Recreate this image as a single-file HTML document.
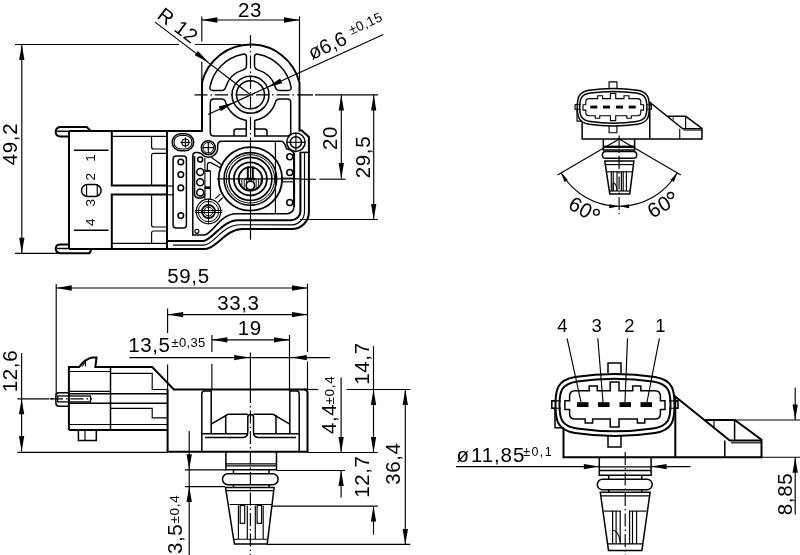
<!DOCTYPE html>
<html><head><meta charset="utf-8"><style>
html,body{margin:0;padding:0;background:#fff;width:800px;height:555px;overflow:hidden}
svg{display:block;will-change:transform}
text{font-family:"Liberation Sans",sans-serif;fill:#000;stroke:none}
</style></head><body>
<svg width="800" height="555" viewBox="0 0 800 555">
<g fill="none" stroke="#000" stroke-linecap="butt">
<line x1="201.8" y1="16.5" x2="201.8" y2="41.6" stroke-width="1.15" />
<line x1="201.8" y1="61.8" x2="201.8" y2="82" stroke-width="1.15" />
<line x1="299.5" y1="16.5" x2="299.5" y2="80" stroke-width="1.15" />
<line x1="201.8" y1="20" x2="299.5" y2="20" stroke-width="1.15" />
<path d="M201.80 20.00 L217.30 17.35 L217.30 22.65 Z" fill="#000" stroke="none"/>
<path d="M299.50 20.00 L284.00 22.65 L284.00 17.35 Z" fill="#000" stroke="none"/>
<text x="250" y="17" font-size="20.5" letter-spacing="0.6" text-anchor="middle" >23</text>
<line x1="21.8" y1="44.5" x2="21.8" y2="253.3" stroke-width="1.15" />
<path d="M21.80 44.50 L24.45 60.00 L19.15 60.00 Z" fill="#000" stroke="none"/>
<path d="M21.80 253.30 L19.15 237.80 L24.45 237.80 Z" fill="#000" stroke="none"/>
<line x1="15" y1="44.5" x2="179" y2="44.5" stroke-width="1.15" />
<line x1="195" y1="44.5" x2="241" y2="44.5" stroke-width="1.15" />
<line x1="15" y1="253.3" x2="60" y2="253.3" stroke-width="1.15" />
<text x="17" y="144" font-size="20.5" letter-spacing="0.6" text-anchor="middle" transform="rotate(-90 17 144)" >49,2</text>
<line x1="155.1" y1="22.1" x2="250.5" y2="94.8" stroke-width="1.15" />
<path d="M208.70 62.40 L194.72 55.20 L197.90 50.97 Z" fill="#000" stroke="none"/>
<text x="0" y="0" font-size="20" letter-spacing="0.6" text-anchor="middle" transform="translate(173.8,31) rotate(37)">R 12</text>
<line x1="208" y1="114.4" x2="383.3" y2="34.4" stroke-width="1.15" />
<path d="M267.16 87.22 L280.17 78.39 L282.36 83.22 Z" fill="#000" stroke="none"/>
<path d="M233.84 102.38 L220.83 111.21 L218.64 106.38 Z" fill="#000" stroke="none"/>
<text font-size="20" transform="translate(312,60) rotate(-24.46)">ø6,6<tspan font-size="13.5" dy="-6.5" dx="6" letter-spacing="0.4">±0,15</tspan></text>
<line x1="341.3" y1="95" x2="341.3" y2="178.6" stroke-width="1.15" />
<path d="M341.30 95.00 L343.95 110.50 L338.65 110.50 Z" fill="#000" stroke="none"/>
<path d="M341.30 178.60 L338.65 163.10 L343.95 163.10 Z" fill="#000" stroke="none"/>
<line x1="373.7" y1="95" x2="373.7" y2="219.4" stroke-width="1.15" />
<path d="M373.70 95.00 L376.35 110.50 L371.05 110.50 Z" fill="#000" stroke="none"/>
<path d="M373.70 219.40 L371.05 203.90 L376.35 203.90 Z" fill="#000" stroke="none"/>
<line x1="299.5" y1="179.2" x2="315.9" y2="179.2" stroke-width="1.15" />
<line x1="319.4" y1="179.2" x2="345.6" y2="179.2" stroke-width="1.15" />
<line x1="300" y1="219.5" x2="378" y2="219.5" stroke-width="1.15" />
<text x="337" y="138" font-size="20.5" letter-spacing="0.6" text-anchor="middle" transform="rotate(-90 337 138)" >20</text>
<text x="370" y="157" font-size="20.5" letter-spacing="0.6" text-anchor="middle" transform="rotate(-90 370 157)" >29,5</text>
<line x1="194.5" y1="94.8" x2="299.5" y2="94.8" stroke-width="1.15" stroke-dasharray="13 3 1.5 3"/>
<line x1="299.5" y1="94.9" x2="313" y2="94.9" stroke-width="1.4" />
<line x1="315" y1="94.9" x2="378" y2="94.9" stroke-width="1.4" />
<line x1="250.5" y1="35" x2="250.5" y2="147" stroke-width="1.15" stroke-dasharray="13 3 1.5 3"/>
<line x1="250.5" y1="147" x2="250.5" y2="239.7" stroke-width="1.15" />
<line x1="217" y1="178.9" x2="299.5" y2="178.9" stroke-width="1.15" />
<path d="M69 131 H202 V82.2 A50.3 50.3 0 0 1 299.5 82.6 V130.4 H301.7 L308.9 136.9 V212 A17 17 0 0 1 292 229 H242 C226 229 216 249 205 249 H69" stroke-width="2.0" />
<path d="M173 245.1 H204 C214 245.1 222 224.8 240 224.8 H291.4 A13 13 0 0 0 304.5 211.8 V152.4" stroke-width="1.15" />
<path d="M167 241 H203 C212 241 222 220.2 238 220.2 H291.4 A9 9 0 0 0 300.4 211.2 V152.4" stroke-width="2.0" />
<path d="M299.5 152.4 H308.9" stroke-width="1.5" />
<path d="M192.8 235.1 H204 C212 235.1 220 213.7 236 213.7 H287 A7 7 0 0 0 294 206.7 V153 A11 11 0 0 0 286.6 148.8 C285 145 284.5 141.2 281 141.2 H221.7 Q217.7 141.2 217.7 145 V147.7 A9.4 9.4 0 0 1 203.7 155.9 Q201 152.6 197.6 152.6 H196 Q192.8 152.6 192.8 156 Z" stroke-width="1.5" />
<line x1="275.4" y1="141.2" x2="275.4" y2="213.7" stroke-width="1.15" />
<line x1="167" y1="131" x2="167" y2="249" stroke-width="2.0" />
<path d="M209.94 87.04 A41.3 41.3 0 0 1 243.03 54.18 Q246.50 53.69 246.50 57.19 V65.61 Q246.50 69.11 243.09 69.88 A26 26 0 0 0 225.67 87.10 Q224.86 90.50 221.36 90.5 H212.92 Q209.42 90.50 209.94 87.04 Z" stroke-width="1.5" />
<path d="M291.06 87.04 A41.3 41.3 0 0 0 257.97 54.18 Q254.50 53.69 254.50 57.19 V65.61 Q254.50 69.11 257.91 69.88 A26 26 0 0 1 275.33 87.10 Q276.14 90.50 279.64 90.5 H288.08 Q291.58 90.50 291.06 87.04 Z" stroke-width="1.5" />
<path d="M210.30 102.60 Q210.30 99.1 213.80 99.1 H221.36 Q224.86 99.1 225.67 102.50 A26 26 0 0 0 246.30 120.46 V135.9 H213.80 Q210.30 135.9 210.30 132.40 Z" stroke-width="1.5" />
<path d="M234.0 135.9 V131.5 Q234.0 129 236.5 129 H246.3" stroke-width="1.5" />
<path d="M290.70 102.60 Q290.70 99.1 287.20 99.1 H279.64 Q276.14 99.1 275.33 102.50 A26 26 0 0 1 254.70 120.46 V135.9 H287.20 Q290.70 135.9 290.70 132.40 Z" stroke-width="1.5" />
<path d="M267.0 135.9 V131.5 Q267.0 129 264.5 129 H254.7" stroke-width="1.5" />
<circle cx="250.5" cy="94.8" r="14" stroke-width="1.5"/>
<circle cx="250.5" cy="94.8" r="18.5" stroke-width="1.5"/>
<circle cx="295.9" cy="142.3" r="9.2" stroke-width="1.5"/>
<circle cx="295.9" cy="142.3" r="5.6" stroke-width="1.5"/>
<line x1="286.9" y1="142.3" x2="304.9" y2="142.3" stroke-width="1.15" />
<line x1="295.9" y1="133.3" x2="295.9" y2="151.3" stroke-width="1.15" />
<circle cx="208.3" cy="147.7" r="7" stroke-width="1.5"/>
<circle cx="208.3" cy="147.7" r="5.3" stroke-width="1.0"/>
<line x1="202.8" y1="147.7" x2="213.8" y2="147.7" stroke-width="1.15" />
<line x1="208.3" y1="142.2" x2="208.3" y2="153.2" stroke-width="1.15" />
<circle cx="208.5" cy="211.5" r="12.3" stroke-width="1.2"/>
<circle cx="208.5" cy="211.5" r="10.2" stroke-width="1.0"/>
<circle cx="208.5" cy="211.5" r="6.5" stroke-width="1.8"/>
<circle cx="208.5" cy="211.5" r="4.4" stroke-width="1.0"/>
<line x1="195" y1="210.5" x2="222.4" y2="210.5" stroke-width="1.0" />
<line x1="195" y1="212.5" x2="222.4" y2="212.5" stroke-width="1.0" />
<line x1="208.5" y1="198.8" x2="208.5" y2="223.5" stroke-width="1.0" />
<rect x="172.2" y="133.7" width="21.5" height="17.1" rx="8.5" stroke-width="1.5"/>
<rect x="174" y="135.5" width="18" height="13.5" rx="6.7" stroke-width="1.15"/>
<circle cx="185.4" cy="142.5" r="3.5" stroke-width="1.15"/>
<line x1="180.4" y1="142.5" x2="190.4" y2="142.5" stroke-width="1.15" />
<line x1="185.4" y1="137.5" x2="185.4" y2="147.5" stroke-width="1.15" />
<rect x="173.1" y="156" width="13.3" height="72.1" rx="3" stroke-width="1.5"/>
<circle cx="180.8" cy="162" r="2.8" stroke-width="1.5"/>
<circle cx="180.8" cy="174.6" r="2.8" stroke-width="1.5"/>
<circle cx="180.8" cy="187.9" r="2.8" stroke-width="1.5"/>
<circle cx="180.8" cy="215.6" r="2.8" stroke-width="1.5"/>
<path d="M194.5 156 V193.5 Q194.5 198 199 198 H200.4 Q204.7 198 204.7 193.5" stroke-width="1.5" />
<circle cx="200.2" cy="159.6" r="2.5" stroke-width="1.5"/>
<circle cx="200.2" cy="172" r="3.5" stroke-width="1.5"/>
<circle cx="200.2" cy="182.3" r="3.5" stroke-width="1.5"/>
<circle cx="200.2" cy="192.6" r="3.5" stroke-width="1.5"/>
<line x1="204.9" y1="158" x2="204.9" y2="199.5" stroke-width="1.1" />
<line x1="210.4" y1="170.8" x2="210.4" y2="199.5" stroke-width="1.1" />
<line x1="204.9" y1="170.8" x2="210.4" y2="170.8" stroke-width="2.0" />
<line x1="204.9" y1="187.7" x2="210.4" y2="187.7" stroke-width="2.6" />
<path d="M207.4 170.3 V165 Q207.4 162.4 210.4 162.4 L221.3 168.3" stroke-width="1.2" />
<path d="M210.9 157 L221.8 164.9" stroke-width="1.2" />
<path d="M215.3 198.6 L220.3 194.1" stroke-width="1.2" />
<path d="M218.3 202 L222.8 197.6" stroke-width="1.2" />
<circle cx="250.4" cy="178.9" r="31.7" stroke-width="1.8"/>
<circle cx="250.4" cy="178.9" r="26.3" stroke-width="1.6"/>
<circle cx="250.4" cy="178.9" r="24.2" stroke-width="1.0"/>
<circle cx="250.4" cy="178.9" r="21.5" stroke-width="1.6"/>
<circle cx="250.4" cy="178.9" r="16.5" stroke-width="1.8"/>
<circle cx="250.4" cy="178.9" r="11.8" stroke-width="1.8"/>
<clipPath id="hc"><path d="M238.6 178.9 A11.8 11.8 0 0 0 262.2 178.9 Z"/></clipPath>
<g clip-path="url(#hc)">
<line x1="239.4" y1="178.9" x2="239.4" y2="190.9" stroke-width="0.9" />
<line x1="241.8" y1="178.9" x2="241.8" y2="190.9" stroke-width="0.9" />
<line x1="244.2" y1="178.9" x2="244.2" y2="190.9" stroke-width="0.9" />
<line x1="246.6" y1="178.9" x2="246.6" y2="190.9" stroke-width="0.9" />
<line x1="249.0" y1="178.9" x2="249.0" y2="190.9" stroke-width="0.9" />
<line x1="251.4" y1="178.9" x2="251.4" y2="190.9" stroke-width="0.9" />
<line x1="253.8" y1="178.9" x2="253.8" y2="190.9" stroke-width="0.9" />
<line x1="256.2" y1="178.9" x2="256.2" y2="190.9" stroke-width="0.9" />
<line x1="258.6" y1="178.9" x2="258.6" y2="190.9" stroke-width="0.9" />
<line x1="261.0" y1="178.9" x2="261.0" y2="190.9" stroke-width="0.9" />
</g>
<circle cx="250.4" cy="185.4" r="4.2" fill="#fff" stroke-width="1.6"/>
<line x1="245.4" y1="178.9" x2="255.4" y2="178.9" stroke-width="2.2" />
<line x1="247.8" y1="166.5" x2="247.8" y2="179" stroke-width="2.0" />
<line x1="252.8" y1="166.5" x2="252.8" y2="179" stroke-width="2.0" />
<line x1="294.1" y1="153" x2="294.1" y2="206.7" stroke-width="2.0" />
<circle cx="289.8" cy="156.7" r="3" stroke-width="1.5"/>
<circle cx="289.8" cy="172.5" r="3" stroke-width="1.5"/>
<circle cx="289.8" cy="202.6" r="3" stroke-width="1.5"/>
<line x1="281.9" y1="178.2" x2="294.1" y2="178.2" stroke-width="1.15" />
<line x1="281.9" y1="181.8" x2="294.1" y2="181.8" stroke-width="1.15" />
<circle cx="196.9" cy="231.3" r="2" stroke-width="1.15"/>
<path d="M69 131 V248.4" stroke-width="2.0" />
<path d="M111.8 131 V185.6 H167" stroke-width="2.0" />
<path d="M111.8 248.4 V194.5 H167" stroke-width="2.0" />
<line x1="111.8" y1="136.4" x2="167" y2="136.4" stroke-width="1.15" />
<line x1="111.8" y1="243.3" x2="167" y2="243.3" stroke-width="1.15" />
<path d="M151.6 136.4 V147 Q151.6 149 153.6 149 H167" stroke-width="1.15" />
<path d="M167 153.4 H153.6 Q151.6 153.4 151.6 155.4 V185.6" stroke-width="1.15" />
<path d="M151.6 194.5 V225 Q151.6 227 153.6 227 H167" stroke-width="1.15" />
<path d="M167 231 H153.6 Q151.6 231 151.6 233 V243.3" stroke-width="1.15" />
<line x1="167" y1="186" x2="173" y2="186" stroke-width="1.15" />
<line x1="167" y1="194.8" x2="173" y2="194.8" stroke-width="1.15" />
<path d="M91 131.3 L86.6 126.9 H61 Q56 126.9 55.7 131.5 Q55.7 136.4 60.5 136.4 H69" stroke-width="2.0" />
<line x1="57" y1="131.3" x2="69" y2="131.3" stroke-width="1.5" />
<path d="M92 248.5 L89.4 253.3 H61 Q56 253.3 55.7 248.9 Q55.7 244.5 60.5 244.5 H69" stroke-width="2.0" />
<line x1="57" y1="248.5" x2="69" y2="248.5" stroke-width="1.5" />
<line x1="74" y1="150.3" x2="108.6" y2="150.3" stroke-width="1.5" />
<line x1="74" y1="230.2" x2="108.6" y2="230.2" stroke-width="1.5" />
<rect x="81.5" y="184.4" width="19.6" height="12" rx="6" stroke-width="1.5"/>
<line x1="86.6" y1="184.6" x2="86.6" y2="196.2" stroke-width="1.15" />
<line x1="97.3" y1="184.6" x2="97.3" y2="196.2" stroke-width="1.15" />
<text x="95" y="157.8" font-size="13.5" letter-spacing="0.3" text-anchor="middle" transform="rotate(-90 95 157.8)" >1</text>
<text x="95" y="176.7" font-size="13.5" letter-spacing="0.3" text-anchor="middle" transform="rotate(-90 95 176.7)" >2</text>
<text x="95" y="202.7" font-size="13.5" letter-spacing="0.3" text-anchor="middle" transform="rotate(-90 95 202.7)" >3</text>
<text x="95" y="222.2" font-size="13.5" letter-spacing="0.3" text-anchor="middle" transform="rotate(-90 95 222.2)" >4</text>
<!-- BOTTOM-LEFT -->
<line x1="56.2" y1="284" x2="56.2" y2="395" stroke-width="1.15" />
<line x1="56.2" y1="288" x2="307.5" y2="288" stroke-width="1.15" />
<path d="M56.20 288.00 L71.70 285.35 L71.70 290.65 Z" fill="#000" stroke="none"/>
<path d="M307.50 288.00 L292.00 290.65 L292.00 285.35 Z" fill="#000" stroke="none"/>
<text x="188.5" y="282.5" font-size="20.5" letter-spacing="0.6" text-anchor="middle" >59,5</text>
<line x1="307.5" y1="283.8" x2="307.5" y2="352" stroke-width="1.15" />
<line x1="307.5" y1="361.5" x2="307.5" y2="390" stroke-width="1.15" />
<line x1="167.6" y1="314.6" x2="307.5" y2="314.6" stroke-width="1.15" />
<path d="M167.60 314.60 L183.10 311.95 L183.10 317.25 Z" fill="#000" stroke="none"/>
<path d="M307.50 314.60 L292.00 317.25 L292.00 311.95 Z" fill="#000" stroke="none"/>
<line x1="167.6" y1="308.6" x2="167.6" y2="333.1" stroke-width="1.15" />
<line x1="167.6" y1="364.4" x2="167.6" y2="390" stroke-width="1.15" />
<text x="238.4" y="310.1" font-size="20.5" letter-spacing="0.6" text-anchor="middle" >33,3</text>
<line x1="211.9" y1="339.8" x2="289.5" y2="339.8" stroke-width="1.15" />
<path d="M211.90 339.80 L227.40 337.15 L227.40 342.45 Z" fill="#000" stroke="none"/>
<path d="M289.50 339.80 L274.00 342.45 L274.00 337.15 Z" fill="#000" stroke="none"/>
<line x1="211.9" y1="334.9" x2="211.9" y2="352" stroke-width="1.15" />
<line x1="211.9" y1="364" x2="211.9" y2="390" stroke-width="1.15" />
<line x1="289.5" y1="334.9" x2="289.5" y2="390" stroke-width="1.15" />
<text x="249.8" y="335.3" font-size="20.5" letter-spacing="0.6" text-anchor="middle" >19</text>
<line x1="129.4" y1="357.6" x2="330" y2="357.6" stroke-width="1.15" />
<path d="M249.60 357.60 L234.10 360.25 L234.10 354.95 Z" fill="#000" stroke="none"/>
<path d="M291.30 357.60 L306.80 354.95 L306.80 360.25 Z" fill="#000" stroke="none"/>
<text x="128.2" y="351.9" font-size="20.5" letter-spacing="0.6" text-anchor="start" >13,5</text>
<text x="171.5" y="346.9" font-size="13" letter-spacing="0.3" text-anchor="start" >±0,35</text>
<line x1="21.6" y1="353" x2="21.6" y2="451.4" stroke-width="1.15" />
<path d="M21.60 398.80 L24.25 414.30 L18.95 414.30 Z" fill="#000" stroke="none"/>
<path d="M21.60 451.40 L18.95 435.90 L24.25 435.90 Z" fill="#000" stroke="none"/>
<line x1="17.3" y1="398.8" x2="49.5" y2="398.8" stroke-width="1.15" />
<line x1="51.5" y1="398.8" x2="53" y2="398.8" stroke-width="1.15" />
<line x1="17.3" y1="452.4" x2="167.6" y2="452.4" stroke-width="1.15" />
<text x="17" y="371" font-size="20.5" letter-spacing="0.6" text-anchor="middle" transform="rotate(-90 17 371)" >12,6</text>
<path d="M68.9 430.1 V367 H79.2 Q85 359 92.2 357.6 H96.5 L95.4 367 H152.2 L173.9 389.5 H307.5" stroke-width="2.0" />
<path d="M82 366.5 L85.5 361.5 V366.5" stroke-width="1.15" />
<path d="M68.9 430.1 H167.6" stroke-width="2.0" />
<path d="M78.4 430.1 V440.5 H96.3 V430.1" stroke-width="1.5" />
<line x1="85" y1="430.1" x2="85" y2="440.5" stroke-width="1.15" />
<line x1="110.5" y1="367.7" x2="110.5" y2="430.1" stroke-width="1.5" />
<line x1="68.9" y1="371.5" x2="110.5" y2="371.5" stroke-width="1.15" />
<line x1="68.9" y1="391.3" x2="110.5" y2="391.3" stroke-width="1.15" />
<path d="M110.5 373.4 H152.2 V389.5 H167.6" stroke-width="1.15" />
<line x1="68.9" y1="393.8" x2="167.6" y2="393.8" stroke-width="1.5" />
<line x1="68.9" y1="403.3" x2="167.6" y2="403.3" stroke-width="1.5" />
<path d="M110.5 408.4 H152.2 V417.8 H167.6" stroke-width="1.15" />
<line x1="68.9" y1="424.5" x2="167.6" y2="424.5" stroke-width="1.15" />
<path d="M68.9 392.7 H59 Q55.9 392.7 55.9 396 V403 Q55.9 406.2 59 406.2 H68.9" stroke-width="1.5" />
<rect x="57.6" y="396" width="32.9" height="5.9" rx="0" stroke-width="1.3"/>
<line x1="50" y1="398.9" x2="92" y2="398.9" stroke-width="1.15" stroke-dasharray="13 3 1.5 3"/>
<path d="M167.6 389.5 V451.7 H307.5 V393 Q307.5 389.5 304 389.5" stroke-width="2.0" />
<path d="M201.8 451.7 V394 Q201.8 391 204.5 391 H211.2" stroke-width="1.5" />
<line x1="211.2" y1="389.8" x2="211.2" y2="433.4" stroke-width="1.5" />
<path d="M289.8 389.8 V433.4" stroke-width="1.5" />
<path d="M299.2 451.7 V394 Q299.2 391 296.5 391 H289.8" stroke-width="1.5" />
<line x1="201.8" y1="433.7" x2="247.8" y2="433.7" stroke-width="1.5" />
<line x1="253.5" y1="433.7" x2="299.2" y2="433.7" stroke-width="1.5" />
<path d="M205 437.4 H243 Q247.8 437.4 247.8 432 V417 Q247.8 414.6 250.6 414.6 Q253.5 414.6 253.5 417 V432 Q253.5 437.4 258 437.4 H296" stroke-width="1.5" />
<path d="M211.2 424.2 L226.5 415.2 Q227 414.2 229 414.2 H247.8" stroke-width="1.5" />
<path d="M289.8 424.2 L274.5 415.2 Q274 414.2 272 414.2 H253.5" stroke-width="1.5" />
<line x1="225.7" y1="415" x2="225.7" y2="433.7" stroke-width="1.5" />
<line x1="276" y1="415" x2="276" y2="433.7" stroke-width="1.5" />
<line x1="250.4" y1="352.5" x2="250.4" y2="390" stroke-width="1.15" />
<line x1="250.4" y1="390" x2="250.4" y2="555" stroke-width="1.15" stroke-dasharray="13 3 1.5 3"/>
<path d="M225.9 451.7 V469.8 H276.5 V451.7" stroke-width="1.5" />
<line x1="225.9" y1="463.8" x2="276.5" y2="463.8" stroke-width="1.15" />
<line x1="225.9" y1="465.8" x2="276.5" y2="465.8" stroke-width="1.15" />
<path d="M233.5 469.8 V473.8 M269.1 469.8 V473.8" stroke-width="1.5" />
<rect x="222.5" y="473.8" width="55.6" height="10.9" rx="5.45" stroke-width="1.5"/>
<path d="M233.5 484.7 V487.6 M269.1 484.7 V487.6" stroke-width="1.5" />
<path d="M225.5 487.6 H274.1 L267.2 544.1 H234.4 Z" stroke-width="1.5" />
<line x1="226" y1="490.6" x2="273.8" y2="490.6" stroke-width="1.15" />
<line x1="233.8" y1="539.2" x2="267.8" y2="539.2" stroke-width="1.15" />
<line x1="229.5" y1="504.5" x2="272" y2="504.5" stroke-width="1.15" />
<line x1="238.4" y1="505.5" x2="238.4" y2="539" stroke-width="1.15" />
<line x1="247.3" y1="505.5" x2="247.3" y2="539" stroke-width="1.15" />
<rect x="240.20000000000002" y="505.5" width="4.5" height="17.8" rx="0" stroke-width="1.15"/>
<line x1="255.3" y1="505.5" x2="255.3" y2="539" stroke-width="1.15" />
<line x1="263.2" y1="505.5" x2="263.2" y2="539" stroke-width="1.15" />
<rect x="257.1" y="505.5" width="4.5" height="17.8" rx="0" stroke-width="1.15"/>
<line x1="308" y1="389.5" x2="318" y2="389.5" stroke-width="1.15" />
<line x1="346.5" y1="389.5" x2="410.3" y2="389.5" stroke-width="1.15" />
<line x1="307.5" y1="452.5" x2="377.7" y2="452.5" stroke-width="1.15" />
<line x1="276.5" y1="470.5" x2="345" y2="470.5" stroke-width="1.15" />
<line x1="272" y1="506.1" x2="377.7" y2="506.1" stroke-width="1.15" />
<line x1="267.2" y1="544.4" x2="410.3" y2="544.4" stroke-width="1.15" />
<line x1="184.9" y1="469.8" x2="226" y2="469.8" stroke-width="1.15" />
<line x1="184.9" y1="486.6" x2="225" y2="486.6" stroke-width="1.15" />
<line x1="189.2" y1="431" x2="189.2" y2="555" stroke-width="1.15" />
<path d="M189.20 469.80 L186.55 454.30 L191.85 454.30 Z" fill="#000" stroke="none"/>
<path d="M189.20 486.60 L191.85 502.10 L186.55 502.10 Z" fill="#000" stroke="none"/>
<text x="182" y="554" font-size="20.5" letter-spacing="0.6" text-anchor="start" transform="rotate(-90 182 554)" >3,5</text>
<text x="178.5" y="523.5" font-size="13.5" letter-spacing="0.7" text-anchor="start" transform="rotate(-90 178.5 523.5)" >±0,4</text>
<line x1="341.1" y1="377.6" x2="341.1" y2="452.5" stroke-width="1.15" />
<path d="M341.10 452.50 L338.45 437.00 L343.75 437.00 Z" fill="#000" stroke="none"/>
<line x1="341.1" y1="470.5" x2="341.1" y2="497.5" stroke-width="1.15" />
<path d="M341.10 470.50 L343.75 486.00 L338.45 486.00 Z" fill="#000" stroke="none"/>
<text x="335.5" y="434" font-size="20.5" letter-spacing="0.6" text-anchor="start" transform="rotate(-90 335.5 434)" >4,4</text>
<text x="333.5" y="404.5" font-size="13.5" letter-spacing="0.7" text-anchor="start" transform="rotate(-90 333.5 404.5)" >±0,4</text>
<line x1="373.5" y1="346.2" x2="373.5" y2="452.5" stroke-width="1.15" />
<path d="M373.50 389.50 L376.15 405.00 L370.85 405.00 Z" fill="#000" stroke="none"/>
<path d="M373.50 452.50 L370.85 437.00 L376.15 437.00 Z" fill="#000" stroke="none"/>
<line x1="373.5" y1="506.1" x2="373.5" y2="534.7" stroke-width="1.15" />
<path d="M373.50 506.10 L376.15 521.60 L370.85 521.60 Z" fill="#000" stroke="none"/>
<text x="369" y="363.5" font-size="20.5" letter-spacing="0.6" text-anchor="middle" transform="rotate(-90 369 363.5)" >14,7</text>
<text x="369" y="476.7" font-size="20.5" letter-spacing="0.6" text-anchor="middle" transform="rotate(-90 369 476.7)" >12,7</text>
<line x1="405.3" y1="389.5" x2="405.3" y2="544.4" stroke-width="1.15" />
<path d="M405.30 389.50 L407.95 405.00 L402.65 405.00 Z" fill="#000" stroke="none"/>
<path d="M405.30 544.40 L402.65 528.90 L407.95 528.90 Z" fill="#000" stroke="none"/>
<text x="400.3" y="463.7" font-size="20.5" letter-spacing="0.6" text-anchor="middle" transform="rotate(-90 400.3 463.7)" >36,4</text>
<!-- RIGHT VIEWS -->
<g transform="">
<path d="M555.5 405 C555.5 390 557 380 575 377 Q615 371 655 377 C673 380 674.5 390 674.5 405 C674.5 420 673 430 655 433 Q615 439 575 433 C557 430 555.5 420 555.5 405 Z" stroke-width="2.0" vector-effect="non-scaling-stroke"/>
<path d="M559.5 405 C559.5 392 561 384 577 381.5 Q615 376 653 381.5 C669 384 670.5 392 670.5 405 C670.5 418 669 426 653 428.5 Q615 434 577 428.5 C561 426 559.5 418 559.5 405 Z" stroke-width="2.0" vector-effect="non-scaling-stroke"/>
<path d="M608 373 V363 H621 V373" stroke-width="1.5" vector-effect="non-scaling-stroke"/>
<path d="M608 436 V447 H621 V436" stroke-width="1.5" vector-effect="non-scaling-stroke"/>
<path d="M555.5 400.8 H551.8 V408.2 H555.5 M674.5 400.8 H678 V408.2 H674.5" stroke-width="1.5" vector-effect="non-scaling-stroke"/>
<path d="M551.8 400.8 H561 M551.8 408.2 H561 M669 400.8 H678 M669 408.2 H678" stroke-width="1.15" vector-effect="non-scaling-stroke"/>
<path d="M575 390.7 H589.2 V386 H597.3 V390.7 H610.2 V382 H619 V390.7 H632.7 V386 H640.8 V390.7 H655 Q660.4 390.7 660.4 396 V400.8 H665 V409.6 H660.4 V414 Q660.4 419 655 419 H644.8 V423.1 H637.4 V419 H619 V427 H610.2 V419 H592.6 V423.1 H585.2 V419 H575 Q569.6 419 569.6 414 V409.6 H564.9 V400.8 H569.6 V396 Q569.6 390.7 575 390.7 Z" stroke-width="1.5" vector-effect="non-scaling-stroke"/>
<rect x="577" y="402.2" width="11.5" height="4.8" fill="#000" stroke="none"/>
<rect x="598" y="402.2" width="11.5" height="4.8" fill="#000" stroke="none"/>
<rect x="619.5" y="402.2" width="11.5" height="4.8" fill="#000" stroke="none"/>
<rect x="640.5" y="402.2" width="11.5" height="4.8" fill="#000" stroke="none"/>
<path d="M555 408.2 V427.8 H563.5" stroke-width="1.5" vector-effect="non-scaling-stroke"/>
<path d="M563.5 429 V457.2 H761.5 V439.8 L734.8 419.9 H704.6" stroke-width="2.0" vector-effect="non-scaling-stroke"/>
<path d="M674.3 395.8 L729.8 440.5 H761.5" stroke-width="2.0" vector-effect="non-scaling-stroke"/>
<line x1="675.3" y1="396" x2="675.3" y2="457.2" stroke-width="2.0" vector-effect="non-scaling-stroke"/>
<line x1="734.6" y1="420" x2="734.6" y2="440.5" stroke-width="1.5" vector-effect="non-scaling-stroke"/>
<line x1="731" y1="442.8" x2="761.5" y2="442.8" stroke-width="1.15" vector-effect="non-scaling-stroke"/>
<line x1="724.8" y1="440.5" x2="724.8" y2="457.2" stroke-width="1.5" vector-effect="non-scaling-stroke"/>
<line x1="714" y1="420" x2="714" y2="427.7" stroke-width="1.15" vector-effect="non-scaling-stroke"/>
</g>
<line x1="567.1" y1="338.3" x2="581" y2="402" stroke-width="1.15" />
<text x="562.8" y="332.1" font-size="18.5" letter-spacing="0.6" text-anchor="middle" >4</text>
<line x1="597.8" y1="338.3" x2="603" y2="402" stroke-width="1.15" />
<text x="596.9" y="332.1" font-size="18.5" letter-spacing="0.6" text-anchor="middle" >3</text>
<line x1="627.5" y1="338.3" x2="625" y2="402" stroke-width="1.15" />
<text x="629.7" y="332.1" font-size="18.5" letter-spacing="0.6" text-anchor="middle" >2</text>
<line x1="659.4" y1="338.3" x2="647" y2="402" stroke-width="1.15" />
<text x="660.8" y="332.1" font-size="18.5" letter-spacing="0.6" text-anchor="middle" >1</text>
<path d="M599.3 457.2 V475.2 H651.1 V457.2" stroke-width="1.5" />
<line x1="599.3" y1="466.9" x2="651.1" y2="466.9" stroke-width="1.15" />
<line x1="599.3" y1="470.6" x2="651.1" y2="470.6" stroke-width="1.5" />
<path d="M608.7 475.2 V479.3 M641.8 475.2 V479.3" stroke-width="1.5" />
<rect x="597.3" y="479.3" width="54.9" height="10.4" rx="5.2" stroke-width="1.5"/>
<path d="M608.7 489.7 V492.8 M641.8 489.7 V492.8" stroke-width="1.5" />
<path d="M600.3 492.3 H650.1 L641.9 550.4 H608.5 Z" stroke-width="1.5" />
<line x1="600.8" y1="495.9" x2="649.6" y2="495.9" stroke-width="1.15" />
<line x1="603.8" y1="511.1" x2="620.8" y2="511.1" stroke-width="1.15" />
<line x1="629" y1="511.1" x2="646.6" y2="511.1" stroke-width="1.15" />
<line x1="607.6" y1="543.9" x2="642.8" y2="543.9" stroke-width="1.15" />
<line x1="612.6" y1="511.1" x2="612.6" y2="543.9" stroke-width="1.15" />
<line x1="616.1" y1="511.1" x2="616.1" y2="543.9" stroke-width="1.15" />
<line x1="620.2" y1="511.1" x2="620.2" y2="543.9" stroke-width="1.15" />
<line x1="629.6" y1="511.1" x2="629.6" y2="543.9" stroke-width="1.15" />
<line x1="632.5" y1="511.1" x2="632.5" y2="543.9" stroke-width="1.15" />
<line x1="636.6" y1="511.1" x2="636.6" y2="543.9" stroke-width="1.15" />
<path d="M612.6 530 Q619 531 620.2 542" stroke-width="1.15" />
<line x1="625.2" y1="452" x2="625.2" y2="555" stroke-width="1.15" stroke-dasharray="13 3 1.5 3"/>
<line x1="456" y1="466.6" x2="599.3" y2="466.6" stroke-width="1.15" />
<path d="M599.30 466.60 L583.80 469.25 L583.80 463.95 Z" fill="#000" stroke="none"/>
<line x1="651.1" y1="466.6" x2="690.5" y2="466.6" stroke-width="1.15" />
<path d="M651.10 466.60 L666.60 463.95 L666.60 469.25 Z" fill="#000" stroke="none"/>
<text x="456.5" y="462" font-size="20.5" letter-spacing="0.9">ø<tspan dx="1">11,85</tspan><tspan font-size="12.5" dy="-6.5" dx="-2" letter-spacing="1.4">±0,1</tspan></text>
<line x1="734.8" y1="420" x2="800" y2="420" stroke-width="1.15" />
<line x1="761.8" y1="457.2" x2="800" y2="457.2" stroke-width="1.15" />
<line x1="795.2" y1="387.6" x2="795.2" y2="420" stroke-width="1.15" />
<path d="M795.20 420.00 L792.55 404.50 L797.85 404.50 Z" fill="#000" stroke="none"/>
<line x1="795.2" y1="457.2" x2="795.2" y2="514.4" stroke-width="1.15" />
<path d="M795.20 457.20 L797.85 472.70 L792.55 472.70 Z" fill="#000" stroke="none"/>
<text x="791.5" y="494" font-size="20.5" letter-spacing="0.6" text-anchor="middle" transform="rotate(-90 791.5 494)" >8,85</text>
<g transform="translate(241.225 -137.722) scale(0.605)">
<path d="M555.5 405 C555.5 390 557 380 575 377 Q615 371 655 377 C673 380 674.5 390 674.5 405 C674.5 420 673 430 655 433 Q615 439 575 433 C557 430 555.5 420 555.5 405 Z" stroke-width="1.5" vector-effect="non-scaling-stroke"/>
<path d="M559.5 405 C559.5 392 561 384 577 381.5 Q615 376 653 381.5 C669 384 670.5 392 670.5 405 C670.5 418 669 426 653 428.5 Q615 434 577 428.5 C561 426 559.5 418 559.5 405 Z" stroke-width="1.5" vector-effect="non-scaling-stroke"/>
<path d="M608 373 V363 H621 V373" stroke-width="1.125" vector-effect="non-scaling-stroke"/>
<path d="M608 436 V447 H621 V436" stroke-width="1.125" vector-effect="non-scaling-stroke"/>
<path d="M555.5 400.8 H551.8 V408.2 H555.5 M674.5 400.8 H678 V408.2 H674.5" stroke-width="1.125" vector-effect="non-scaling-stroke"/>
<path d="M551.8 400.8 H561 M551.8 408.2 H561 M669 400.8 H678 M669 408.2 H678" stroke-width="0.8624999999999999" vector-effect="non-scaling-stroke"/>
<path d="M575 390.7 H589.2 V386 H597.3 V390.7 H610.2 V382 H619 V390.7 H632.7 V386 H640.8 V390.7 H655 Q660.4 390.7 660.4 396 V400.8 H665 V409.6 H660.4 V414 Q660.4 419 655 419 H644.8 V423.1 H637.4 V419 H619 V427 H610.2 V419 H592.6 V423.1 H585.2 V419 H575 Q569.6 419 569.6 414 V409.6 H564.9 V400.8 H569.6 V396 Q569.6 390.7 575 390.7 Z" stroke-width="1.125" vector-effect="non-scaling-stroke"/>
<rect x="577" y="402.2" width="11.5" height="4.8" fill="#000" stroke="none"/>
<rect x="598" y="402.2" width="11.5" height="4.8" fill="#000" stroke="none"/>
<rect x="619.5" y="402.2" width="11.5" height="4.8" fill="#000" stroke="none"/>
<rect x="640.5" y="402.2" width="11.5" height="4.8" fill="#000" stroke="none"/>
<path d="M555 408.2 V427.8 H563.5" stroke-width="1.125" vector-effect="non-scaling-stroke"/>
<path d="M563.5 429 V457.2 H761.5 V439.8 L734.8 419.9 H704.6" stroke-width="1.5" vector-effect="non-scaling-stroke"/>
<path d="M674.3 395.8 L729.8 440.5 H761.5" stroke-width="1.5" vector-effect="non-scaling-stroke"/>
<line x1="675.3" y1="396" x2="675.3" y2="457.2" stroke-width="1.5" vector-effect="non-scaling-stroke"/>
<line x1="734.6" y1="420" x2="734.6" y2="440.5" stroke-width="1.125" vector-effect="non-scaling-stroke"/>
<line x1="731" y1="442.8" x2="761.5" y2="442.8" stroke-width="0.8624999999999999" vector-effect="non-scaling-stroke"/>
<line x1="724.8" y1="440.5" x2="724.8" y2="457.2" stroke-width="1.125" vector-effect="non-scaling-stroke"/>
<line x1="714" y1="420" x2="714" y2="427.7" stroke-width="0.8624999999999999" vector-effect="non-scaling-stroke"/>
</g>
<path d="M603.3 138.9 V150.1 H634.6 V138.9" stroke-width="1.5" />
<line x1="603.3" y1="146.8" x2="634.6" y2="146.8" stroke-width="2.4" />
<rect x="602.4" y="151.6" width="34.3" height="6.7" rx="3.35" stroke-width="1.5"/>
<path d="M604.8 161 H633.9 L629.7 194.1 H609.8 Z" stroke-width="1.5" />
<line x1="605" y1="164.6" x2="633.5" y2="164.6" stroke-width="1.15" />
<line x1="606" y1="171.8" x2="632.6" y2="171.8" stroke-width="1.15" />
<line x1="611.3" y1="171.8" x2="611.3" y2="191" stroke-width="1.15" />
<line x1="613.2" y1="171.8" x2="613.2" y2="191" stroke-width="1.15" />
<line x1="617" y1="171.8" x2="617" y2="191" stroke-width="1.15" />
<line x1="621.4" y1="171.8" x2="621.4" y2="191" stroke-width="1.15" />
<line x1="623.2" y1="171.8" x2="623.2" y2="191" stroke-width="1.15" />
<line x1="626.4" y1="171.8" x2="626.4" y2="191" stroke-width="1.15" />
<path d="M613.2 191 V183 Q616.5 183 617 191" stroke-width="1.15" />
<line x1="609.5" y1="191" x2="630" y2="191" stroke-width="1.15" />
<line x1="619.1" y1="135.6" x2="619.1" y2="214.2" stroke-width="1.15" stroke-dasharray="13 3 1.5 3"/>
<line x1="619.2" y1="138.9" x2="557.5" y2="175" stroke-width="1.15" />
<line x1="619.2" y1="138.9" x2="680.9" y2="175" stroke-width="1.15" />
<path d="M560.92 172.55 A67.3 67.3 0 0 0 619.20 206.20 A67.3 67.3 0 0 0 677.48 172.55" stroke-width="1.15" />
<path d="M560.92 172.55 L567.91 179.97 L564.52 182.09 Z" fill="#000" stroke="none"/>
<path d="M619.20 206.20 L609.20 208.20 L609.20 204.20 Z" fill="#000" stroke="none"/>
<path d="M619.20 206.20 L629.20 204.20 L629.20 208.20 Z" fill="#000" stroke="none"/>
<path d="M677.48 172.55 L673.88 182.09 L670.49 179.97 Z" fill="#000" stroke="none"/>
<text x="567" y="208" font-size="20.5" letter-spacing="0.4" text-anchor="start" transform="rotate(29 567 208)">60</text>
<circle cx="596.4" cy="212.3" r="2.9" stroke-width="1.3"/>
<text x="652.5" y="218.7" font-size="20.5" letter-spacing="0.4" text-anchor="start" transform="rotate(-30 652.5 218.7)">60</text>
<circle cx="670.5" cy="195.6" r="3.1" stroke-width="1.3"/>
</g></svg></body></html>
